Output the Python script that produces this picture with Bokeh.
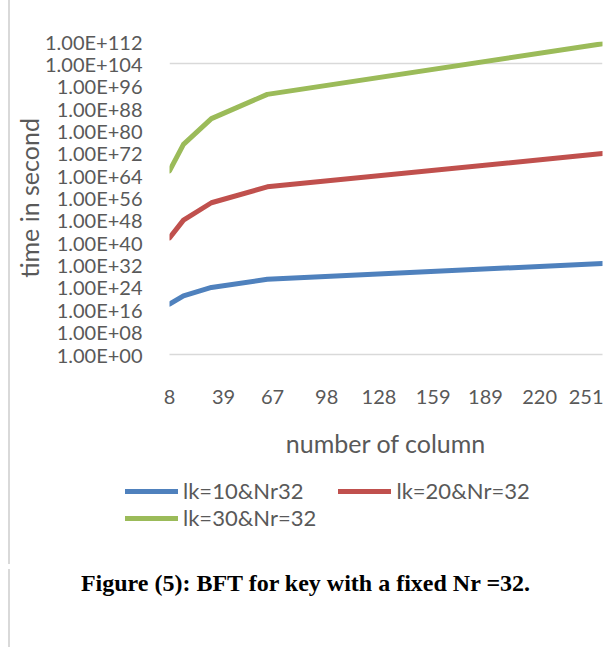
from bokeh.plotting import figure
from bokeh.layouts import column
from bokeh.models import Range1d, FixedTicker, CustomJSTickFormatter, Legend, LegendItem, Div
from bokeh.embed import file_html
from bokeh.resources import INLINE

# ---- data ----
columns = [8, 16, 32, 64, 256]
series_names = ["lk=10&Nr32", "lk=20&Nr=32", "lk=30&Nr=32"]
lk10 = [1.0e18, 1.0e21, 1.0e24, 8.0e26, 4.0e32]
lk20 = [5.0e41, 1.2e48, 2.0e54, 1.0e60, 8.0e71]
lk30 = [5.0e65, 1.6e75, 2.5e84, 1.2e93, 1.6e111]
x_tick_labels = [8, 39, 67, 98, 128, 159, 189, 220, 251]
y_ticks = [1e0, 1e8, 1e16, 1e24, 1e32, 1e40, 1e48, 1e56, 1e64, 1e72,
           1e80, 1e88, 1e96, 1e104, 1e112]
y_grid = [1e0, 1e104, 1e112]
caption = "Figure (5): BFT for key with a fixed Nr =32."

colors = ["#4F81BD", "#C0504D", "#9BBB59"]
FONT = "Lato"
GRAY = "#595959"
BOX = {"border-left": "2px solid #d9d9d9", "margin-left": "8px"}

# ---------------- chart ----------------
p = figure(frame_width=431, frame_height=313, y_axis_type="log",
           x_range=Range1d(8, 256), y_range=Range1d(1e0, 1e112),
           output_backend="svg", toolbar_location=None,
           min_border_left=159, min_border_top=41, min_border_right=3,
           min_border_bottom=110)
p.outline_line_color = None
p.styles = BOX

for vals, c in zip([lk10, lk20, lk30], colors):
    p.line(columns, vals, line_color=c, line_width=5, line_cap="round", line_join="round")

p.xgrid.visible = False
p.ygrid.ticker = FixedTicker(ticks=y_grid)
p.ygrid.grid_line_color = "#d9d9d9"
p.ygrid.grid_line_width = 1.5

ya = p.yaxis[0]
ya.ticker = FixedTicker(ticks=y_ticks)
ya.formatter = CustomJSTickFormatter(code="""
const e = Math.round(Math.log10(tick));
return "1.00E+" + String(e).padStart(2, "0");
""")
ya.axis_line_color = None
ya.major_tick_line_color = None
ya.minor_tick_line_color = None
ya.major_label_standoff = 21
ya.major_label_text_font = FONT
ya.major_label_text_font_size = "20px"
ya.major_label_text_color = GRAY
ya.axis_label = "time in second"
ya.axis_label_text_font = FONT
ya.axis_label_text_font_size = "25px"
ya.axis_label_text_font_style = "normal"
ya.axis_label_text_color = GRAY
ya.axis_label_standoff = -2

xa = p.xaxis[0]
xa.ticker = FixedTicker(ticks=x_tick_labels)
xa.axis_line_color = "#d9d9d9"
xa.axis_line_width = 1.5
xa.major_tick_line_color = None
xa.minor_tick_line_color = None
xa.major_label_standoff = 29
xa.major_label_text_font = FONT
xa.major_label_text_font_size = "20px"
xa.major_label_text_color = GRAY
xa.axis_label = "number of column"
xa.axis_label_text_font = FONT
xa.axis_label_text_font_size = "25px"
xa.axis_label_text_font_style = "normal"
xa.axis_label_text_color = GRAY
xa.axis_label_standoff = 21

# ---------------- legend strip ----------------
W2, H2 = 593, 100
q = figure(frame_width=W2, frame_height=H2, x_range=Range1d(0, W2), y_range=Range1d(0, H2),
           output_backend="svg", toolbar_location=None,
           x_axis_location=None, y_axis_location=None,
           min_border_left=0, min_border_right=0, min_border_top=0, min_border_bottom=0)
q.outline_line_color = None
q.grid.visible = False
q.styles = BOX

# legend swatches only (no visible data)
nan = float("nan")
swatches = [q.line(x=[nan], y=[nan], line_color=c, line_width=5, line_cap="round") for c in colors]
items = [LegendItem(label=n, renderers=[r]) for n, r in zip(series_names, swatches)]
legend_style = dict(orientation="horizontal", border_line_color=None, background_fill_alpha=0,
                    glyph_width=53, glyph_height=24, label_height=24, label_standoff=5,
                    label_text_font=FONT, label_text_font_size="22px", label_text_color=GRAY,
                    label_text_baseline="middle", spacing=35, padding=0, margin=0)
q.add_layout(Legend(items=items[:2], location=(115, 60), **legend_style), "center")
q.add_layout(Legend(items=items[2:], location=(115, 33), **legend_style), "center")

# ---------------- caption ----------------
cap = Div(text=caption, width=593, height=83,
          styles={"border-left": "2px solid #d9d9d9", "margin-left": "8px",
                  "font-family": "Liberation Serif", "font-size": "24px",
                  "font-weight": "bold", "text-align": "center", "color": "black",
                  "line-height": "28px"})

layout = column(p, q, cap, spacing=0)
open("out.html", "w").write(file_html(layout, INLINE))
